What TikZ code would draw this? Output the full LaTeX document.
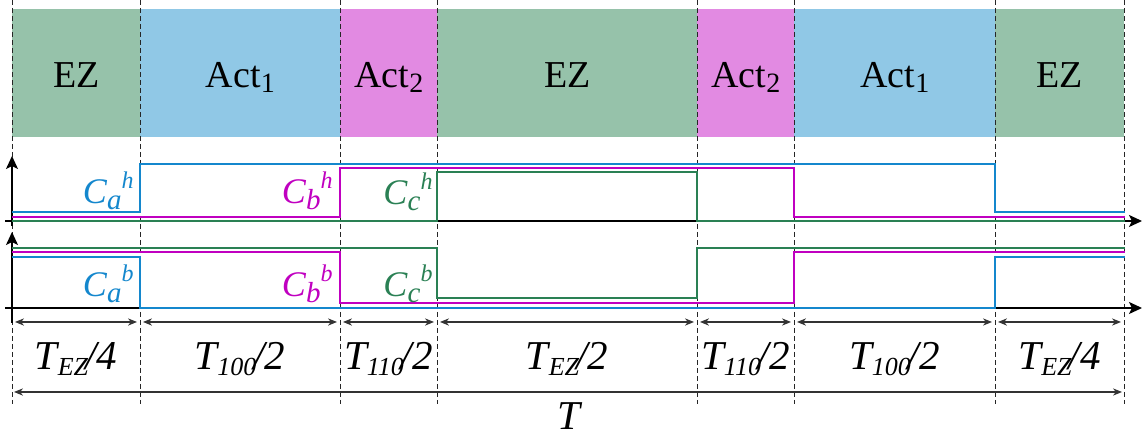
\documentclass[tikz,border=0pt]{standalone}
\usepackage{fontspec}
\setmainfont{Liberation Serif}
\usepackage{xcolor}
\usepackage{tikz}
\usetikzlibrary{arrows.meta}

\definecolor{ezverde}{RGB}{150,194,170}
\definecolor{actazul}{RGB}{144,200,230}
\definecolor{actrosa}{RGB}{226,138,226}
\definecolor{lineazul}{RGB}{20,135,205}
\definecolor{linearosa}{RGB}{192,0,192}
\definecolor{lineaverde}{RGB}{42,128,84}

\newcommand{\bsub}[1]{\raisebox{-2.7pt}{\fontsize{14}{14}\selectfont #1}}
\newcommand{\tsub}[1]{\raisebox{-2.7pt}{\fontsize{13}{13}\selectfont\itshape #1}}
\newcommand{\csig}[2]{\textit{C}\raisebox{-3pt}{\fontsize{14.5}{14}\selectfont\itshape #1}\raisebox{7.5pt}{\fontsize{12}{12}\selectfont\itshape #2}}

\begin{document}
\begin{tikzpicture}[x=0.5pt, y=-0.5pt,
        banda/.style={anchor=north west, inner sep=0pt, minimum height=64pt,
            text height=15pt, text depth=1pt, font=\fontsize{19}{22}\selectfont},
        guia/.style={black!85, line width=0.5pt, dash pattern=on 2.5pt off 1.5pt},
        eje/.style={black, line width=0.8pt, -{Stealth[length=6.5pt, width=6pt, inset=1.5pt]}},
        senal/.style={line width=1.35pt},
        cota/.style={black!80, line width=0.55pt,
            {Stealth[length=4.5pt, width=3.6pt]}-{Stealth[length=4.5pt, width=3.6pt]}},
        etiq/.style={anchor=base, inner sep=0pt, font=\fontsize{20.5}{24}\selectfont\itshape},
        clabel/.style={anchor=base east, inner sep=0pt, font=\fontsize{18}{20}\selectfont}]
        \useasboundingbox (0,0) rectangle (1142,437);

        % Bandas
        \foreach \xa/\xb/\col/\txt [count=\i] in {12/140/ezverde/EZ, 140/340/actazul/Act\bsub{1},
                340/437/actrosa/Act\bsub{2}, 437/697/ezverde/EZ, 697/794/actrosa/Act\bsub{2},
                794/995/actazul/Act\bsub{1}, 995/1124/ezverde/EZ} {
            \pgfmathsetmacro\ancho{(\xb-\xa)/2}
            \node[banda, fill=\col, minimum width=\ancho pt] (banda\i) at (\xa,9) {\txt};
        }

        % Guias
        \foreach \x in {12,140,340,437,697,794,995,1124}
            \draw[guia] (\x,0) -- (\x,404);

        % Ejes
        \draw[eje] (5,221) -- (1142,221);
        \draw[eje] (12,226) -- (12,156);
        \draw[eje] (5,308) -- (1142,308);
        \draw[eje] (12,323) -- (12,232);

        % Senales h
        \draw[senal, lineazul] (12,212) -- (140,212) -- (140,164) -- (995,164) -- (995,212) -- (1125,212);
        \draw[senal, linearosa] (12,217) -- (340,217) -- (340,168) -- (794,168) -- (794,217) -- (1125,217);
        \draw[senal, lineaverde] (12,221) -- (437,221) -- (437,172) -- (697,172) -- (697,221) -- (1125,221);

        % Senales b
        \draw[senal, lineaverde] (12,248) -- (437,248) -- (437,298) -- (697,298) -- (697,248) -- (1125,248);
        \draw[senal, linearosa] (12,252) -- (340,252) -- (340,303) -- (794,303) -- (794,252) -- (1125,252);
        \draw[senal, lineazul] (12,257) -- (140,257) -- (140,308) -- (995,308) -- (995,257) -- (1125,257);

        \node[clabel, lineazul] (cah) at (134,204) {\csig{a}{h}};
        \node[clabel, linearosa] (cbh) at (333,204) {\csig{b}{h}};
        \node[clabel, lineaverde] (cch) at (433,205) {\csig{c}{h}};
        \node[clabel, lineazul] (cab) at (134,297) {\csig{a}{b}};
        \node[clabel, linearosa] (cbb) at (333,297) {\csig{b}{b}};
        \node[clabel, lineaverde] (ccb) at (433,297) {\csig{c}{b}};

        % Cotas
        \foreach \xa/\xb/\txt [count=\i] in {12/140/{T\tsub{EZ}\kern-1.5pt/4}, 140/340/{T\tsub{100}\kern-1.5pt/2},
                340/437/{T\tsub{110}\kern-1.5pt/2}, 437/697/{T\tsub{EZ}\kern-1.5pt/2}, 697/794/{T\tsub{110}\kern-1.5pt/2},
                794/995/{T\tsub{100}\kern-1.5pt/2}, 995/1124/{T\tsub{EZ}\kern-1.5pt/4}} {
            \coordinate (ci\i) at ({\xa+3},322);
            \coordinate (cd\i) at ({\xb-3},322);
            \draw[cota] (ci\i) -- (cd\i);
            \node[etiq] (lab\i) at ({(\xa+\xb)/2},370) {\txt};
        }
        \coordinate (ti) at (14,392);
        \coordinate (td) at (1122,392);
        \draw[cota] (ti) -- (td);
        \node[etiq] (tot) at (569,430) {T};
    \end{tikzpicture}
\end{document}
